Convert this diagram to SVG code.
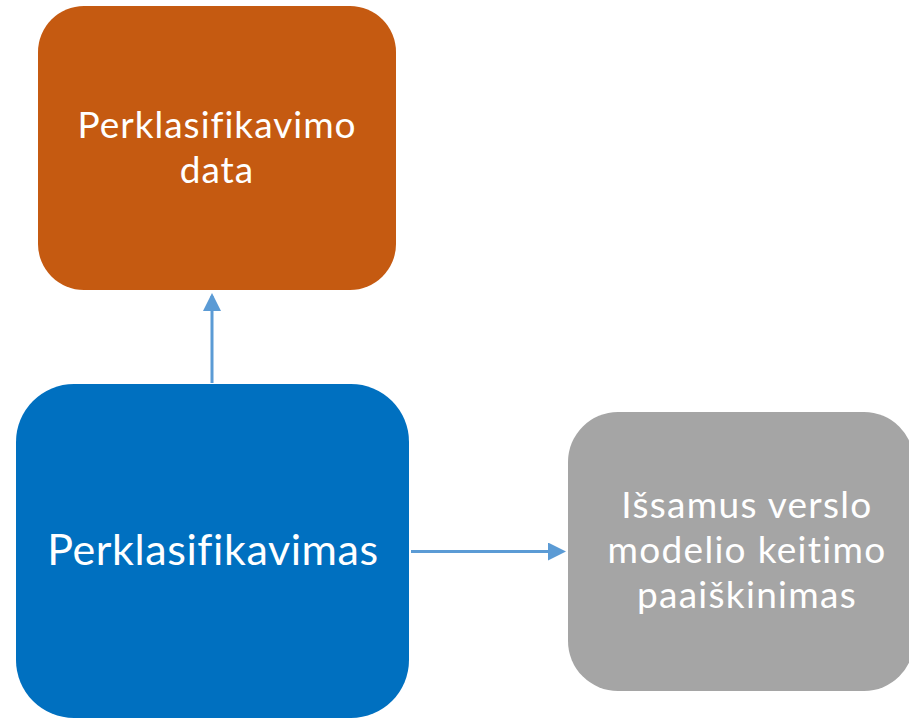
<svg xmlns="http://www.w3.org/2000/svg" width="909" height="718" viewBox="0 0 909 718">
<style>
.lbl{font-family:Lato,"Open Sans","Liberation Sans",sans-serif;fill:#fff;text-anchor:middle;font-variant-ligatures:none}
.conn{stroke:#5B9BD5;stroke-width:3;fill:none}
</style>
<defs>
<marker id="ah" markerWidth="6" markerHeight="6" refX="5" refY="3" orient="auto" markerUnits="strokeWidth" viewBox="0 0 6 6">
<path d="M0,0 L6,3 L0,6 Z" fill="#5B9BD5"/>
</marker>
</defs>
<rect width="909" height="718" fill="#fff"/>
<g id="connectors">
<line class="conn" x1="212" y1="383" x2="212" y2="296" marker-end="url(#ah)"/>
<line class="conn" x1="411" y1="551.5" x2="563" y2="551.5" marker-end="url(#ah)"/>
</g>
<g id="node-data">
<rect x="38" y="6" width="358" height="284" rx="46" fill="#C55A11"/>
<text class="lbl" font-size="37" letter-spacing="1" x="217" y="138">Perklasifikavimo</text>
<text class="lbl" font-size="37" letter-spacing="1" x="217" y="183">data</text>
</g>
<g id="node-perklasifikavimas">
<rect x="16" y="384" width="393" height="334" rx="58" fill="#0070C0"/>
<text class="lbl" font-size="43" letter-spacing="0.6" x="213" y="565">Perklasifikavimas</text>
</g>
<g id="node-paaiskinimas">
<rect x="568" y="412" width="346" height="279" rx="50" fill="#A5A5A5"/>
<text class="lbl" font-size="37" letter-spacing="1.3" x="747" y="518">Išsamus verslo</text>
<text class="lbl" font-size="37" letter-spacing="1.3" x="747" y="563">modelio keitimo</text>
<text class="lbl" font-size="37" letter-spacing="1.3" x="747" y="608">paaiškinimas</text>
</g>
</svg>
